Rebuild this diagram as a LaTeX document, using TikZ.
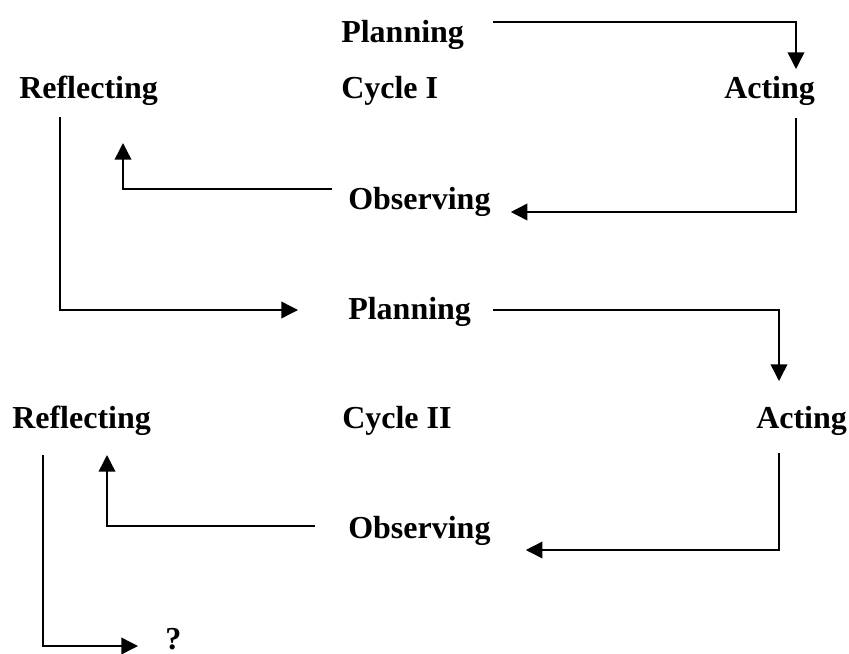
\documentclass[tikz,border=0pt]{standalone}
\usepackage{fontspec}
\setmainfont{Liberation Serif}
\usetikzlibrary{arrows.meta,calc}
\tikzset{
  lbl/.style={rectangle,anchor=base west,inner sep=0pt,font=\fontsize{24}{28}\selectfont\bfseries},
  flow/.style={-{Triangle[length=12.5pt,width=12.5pt]},line width=1.1pt}
}
\begin{document}
\begin{tikzpicture}[x=0.75pt,y=-0.75pt]
      \useasboundingbox (0,0) rectangle (849,653);
      \node[lbl] (plan1) at (341,42) {Planning};
      \node[lbl] (refl1) at (19,98) {Reflecting};
      \node[lbl] (cyc1) at (341,98) {Cycle I};
      \node[lbl] (act1) at (724,98) {Acting};
      \node[lbl] (obs1) at (348,209) {Observing};
      \node[lbl] (plan2) at (348,319) {Planning};
      \node[lbl] (refl2) at (12,428) {Reflecting};
      \node[lbl] (cyc2) at (342,428) {Cycle II};
      \node[lbl] (act2) at (756,428) {Acting};
      \node[lbl] (obs2) at (348,538) {Observing};
      \node[lbl] (q) at (165,649) {?};
      \draw[flow] ($(plan1.base east)+(29,-20)$) -| ($(act1.base west)+(72,-29)$);
      \draw[flow] ($(act1.base west)+(72,20)$) |- ($(obs1.base east)+(20,3)$);
      \draw[flow] ($(obs1.base west)+(-16,-20)$) -| ($(refl1.base west)+(104,45)$);
      \draw[flow] ($(refl1.base west)+(41,19)$) |- ($(plan2.base west)+(-50,-9)$);
      \draw[flow] ($(plan2.base east)+(22,-9)$) -| ($(act2.base west)+(23,-47)$);
      \draw[flow] ($(act2.base west)+(23,25)$) |- ($(obs2.base east)+(35,12)$);
      \draw[flow] ($(obs2.base west)+(-33,-12)$) -| ($(refl2.base west)+(95,27)$);
      \draw[flow] ($(refl2.base west)+(31,27)$) |- ($(q.base west)+(-27,-3)$);
    \end{tikzpicture}
\end{document}
